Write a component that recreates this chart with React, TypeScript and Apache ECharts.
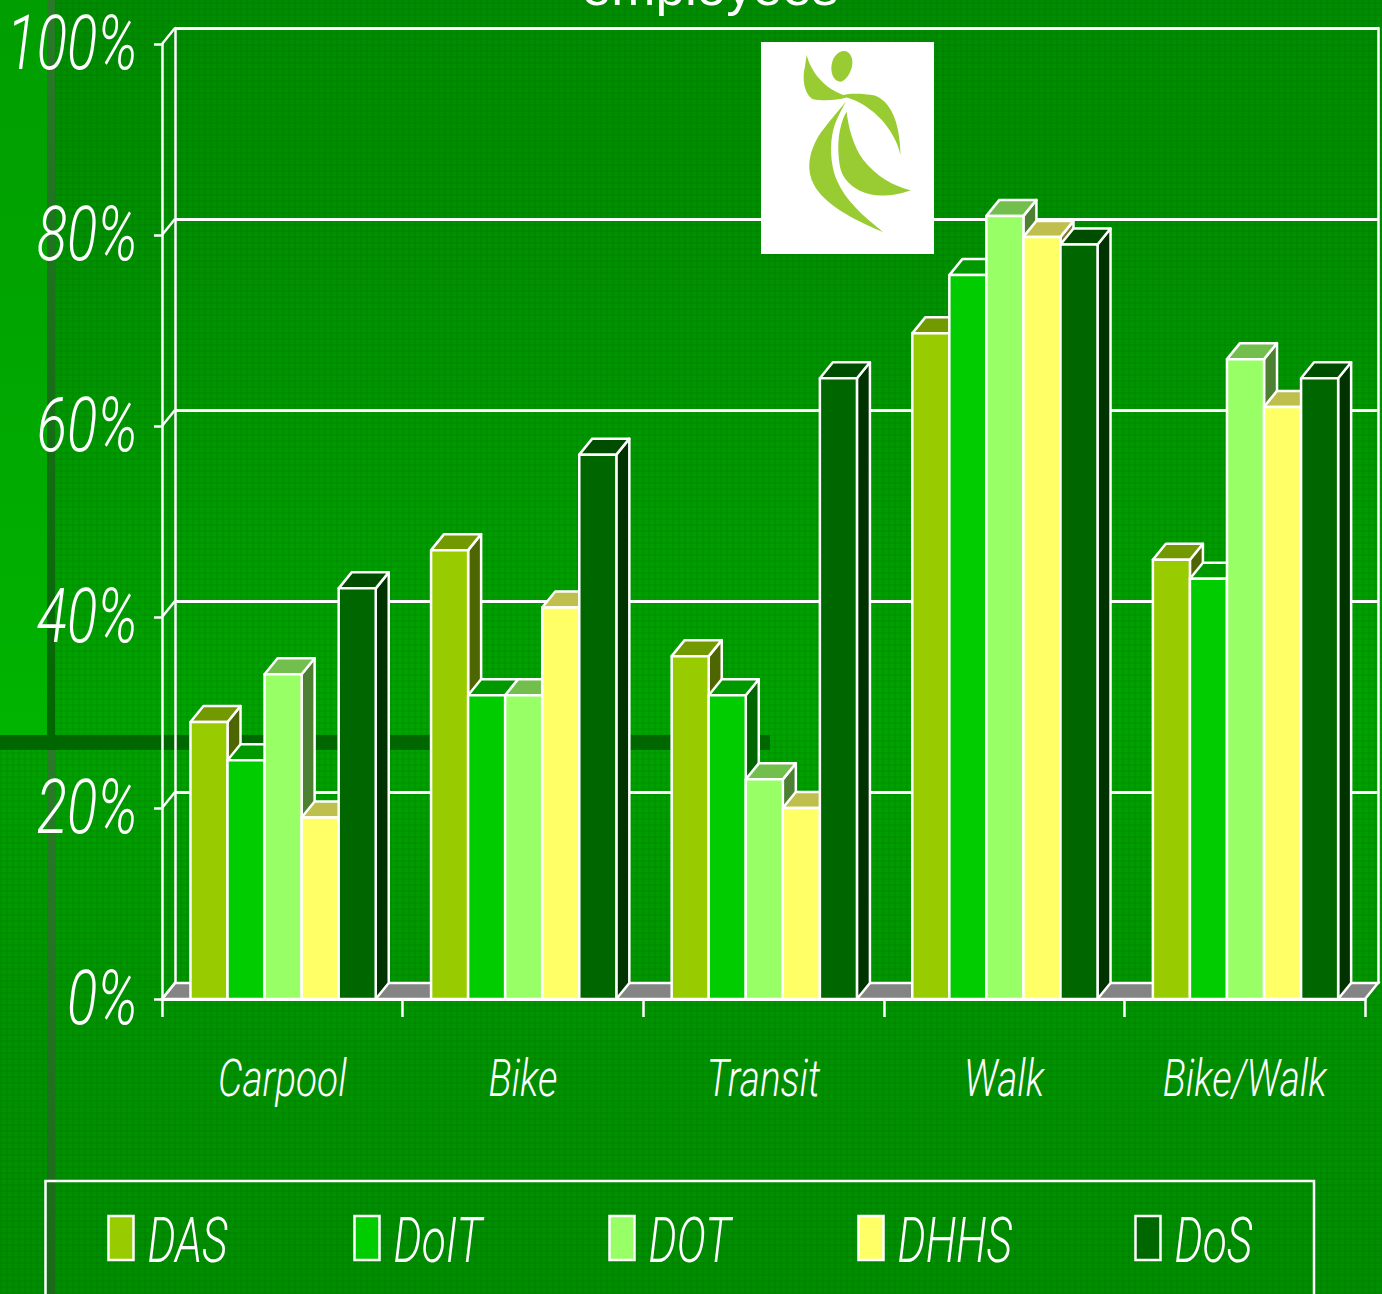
import React, { useEffect, useRef } from "react";
import * as echarts from "echarts";

const categories = ["Carpool", "Bike", "Transit", "Walk", "Bike/Walk"];
const agencies = ["DAS", "DoIT", "DOT", "DHHS", "DoS"];
const dasValues = [29, 47, 35.9, 69.7, 46];
const doitValues = [25, 31.8, 31.8, 75.8, 44];
const dotValues = [34, 31.8, 23, 82, 67];
const dhhsValues = [19, 41, 20, 79.8, 62];
const dosValues = [43, 57, 65, 79, 65];
const yTicks = [0, 20, 40, 60, 80, 100];
const yTickLabels = ["0%", "20%", "40%", "60%", "80%", "100%"];

const seriesValues = [dasValues, doitValues, dotValues, dhhsValues, dosValues];
const frontColors = ["#99CC00", "#00CC00", "#99FF66", "#FFFF66", "#006600"];
const topColors = ["#739900", "#009900", "#73BF4D", "#BFBF4D", "#004D00"];
const sideColors = ["#4D6600", "#006600", "#4D8033", "#808033", "#003300"];
const legendSwatchX = [108.5, 354.5, 609.5, 858.5, 1135.5];

const DX = 13;
const DY = 16;
const WHITE = "#FFFFFF";
const labelFont = (size: number) => `italic 300 ${size}px Roboto, "Liberation Sans", sans-serif`;

const ARM = "M170 75C185 130 225 175 280 195C300 190 340 190 375 197C420 215 450 270 452 375C440 320 400 265 355 235C335 220 310 208 290 203C260 213 210 212 190 208C165 195 155 150 165 110Z";
const HEAD = "M282 63C300 63 312 85 306 110C300 135 283 157 268 155C250 152 240 125 246 100C250 80 265 63 282 63Z";
const LEFT_LEAF = "M288 215C260 250 225 290 205 320C180 365 170 405 185 450C205 500 260 550 400 607C340 560 285 510 260 450C240 400 240 340 250 300C258 270 275 240 288 215Z";
const RIGHT_LEAF = "M290 245C265 290 260 350 270 410C280 460 330 495 390 497C430 497 460 490 483 481C430 470 380 440 340 390C310 350 295 290 290 245Z";
echarts.graphic.registerShape("logoArm", echarts.graphic.extendPath(ARM, {}));
echarts.graphic.registerShape("logoHead", echarts.graphic.extendPath(HEAD, {}));
echarts.graphic.registerShape("logoLeft", echarts.graphic.extendPath(LEFT_LEAF, {}));
echarts.graphic.registerShape("logoRight", echarts.graphic.extendPath(RIGHT_LEAF, {}));

const barSeries = (i: number) => ({
  type: "custom",
  name: agencies[i],
  z: 5 + i,
  silent: true,
  clip: false,
  data: seriesValues[i].map((v, c) => [c, v]),
  renderItem: (_p: any, api: any) => {
    const cat = api.value(0);
    const base = api.coord([cat, 0]);
    const top = api.coord([cat, api.value(1)]);
    const w = api.size([1, 0])[0] * 0.154;
    const x0 = base[0] + 0.8 + (i - 2.5) * w;
    const x1 = x0 + w;
    const y0 = base[1];
    const y1 = top[1];
    const st = (fill: string) => ({ fill, stroke: WHITE, lineWidth: 2.5, lineJoin: "round" });
    return {
      type: "group",
      children: [
        { type: "polygon", shape: { points: [[x1, y1], [x1 + DX, y1 - DY], [x1 + DX, y0 - DY], [x1, y0]] }, style: st(sideColors[i]) },
        { type: "polygon", shape: { points: [[x0, y1], [x0 + DX, y1 - DY], [x1 + DX, y1 - DY], [x1, y1]] }, style: st(topColors[i]) },
        { type: "rect", shape: { x: x0, y: y1, width: w, height: y0 - y1 }, style: st(frontColors[i]) },
      ],
    };
  },
});

const option: any = {
  animation: false,
  backgroundColor: "transparent",
  grid: [
    { left: 162, top: 44, width: 1203, height: 955 },
    { left: 175, top: 28, width: 1203, height: 955 },
  ],
  xAxis: [
    {
      type: "category", data: categories, gridIndex: 0, z: 20,
      axisLine: { show: true, lineStyle: { color: WHITE, width: 3 } },
      axisTick: { show: true, alignWithLabel: false, interval: 0, length: 18, lineStyle: { color: WHITE, width: 2.5 } },
      axisLabel: { show: false },
    },
    {
      type: "category", data: categories, gridIndex: 1, show: true,
      axisLine: { show: false }, axisTick: { show: false }, axisLabel: { show: false },
      splitLine: { show: false },
    },
  ],
  yAxis: [
    {
      type: "value", min: 0, max: 100, interval: 20, gridIndex: 0, z: 20,
      axisLine: { show: true, lineStyle: { color: WHITE, width: 2.5 } },
      axisTick: { show: true, length: 8, lineStyle: { color: WHITE, width: 2.5 } },
      axisLabel: { show: false }, splitLine: { show: false },
    },
    {
      type: "value", min: 0, max: 100, interval: 20, gridIndex: 1,
      axisLine: { show: true, lineStyle: { color: WHITE, width: 2.5 } },
      axisTick: { show: false }, axisLabel: { show: false },
      splitLine: { show: true, lineStyle: { color: WHITE, width: 3 } },
    },
    {
      type: "value", min: 0, max: 100, interval: 20, gridIndex: 1, position: "right",
      axisLine: { show: true, onZero: false, lineStyle: { color: WHITE, width: 2.5 } },
      axisTick: { show: false }, axisLabel: { show: false }, splitLine: { show: false },
    },
  ],
  series: [
    {
      type: "custom", name: "floor", z: 1, silent: true, clip: false,
      data: [[0, 0]],
      renderItem: (p: any, api: any) => {
        const y = api.coord([0, 0])[1];
        const l = p.coordSys.x;
        const r = l + p.coordSys.width;
        return {
          type: "polygon",
          shape: { points: [[l, y], [l + DX, y - DY], [r + DX, y - DY], [r, y]] },
          style: { fill: "#848484", stroke: WHITE, lineWidth: 2.5 },
        };
      },
    },
    {
      type: "custom", name: "yTicks", z: 2, silent: true, clip: false,
      data: yTicks.map((v, i) => [0, v, i]),
      renderItem: (p: any, api: any) => {
        const y = api.coord([0, api.value(1)])[1];
        const l = p.coordSys.x;
        return {
          type: "group",
          children: [
            { type: "line", shape: { x1: l, y1: y, x2: l + DX, y2: y - DY }, style: { stroke: WHITE, lineWidth: 2.5 } },
            {
              type: "text", x: 137.5, y, scaleX: 0.75,
              style: { x: 0, y: 0, text: yTickLabels[api.value(2)], align: "right", verticalAlign: "middle", font: labelFont(75), fill: WHITE },
            },
          ],
        };
      },
    },
    {
      type: "custom", name: "xLabels", z: 2, silent: true, clip: false,
      data: categories.map((_c, i) => [i, 0]),
      renderItem: (_p: any, api: any) => {
        const c = api.coord([api.value(0), 0]);
        return {
          type: "text", x: c[0], y: c[1] + 79, scaleX: 0.745,
          style: { x: 0, y: 0, text: categories[api.value(0)], align: "center", verticalAlign: "middle", font: labelFont(52), fill: WHITE },
        };
      },
    },
    ...seriesValues.map((_v, i) => barSeries(i)),
  ],
  graphic: [
    {
      type: "text", x: 710, y: 13, z: 10, silent: true,
      style: { text: "employees", align: "center", verticalAlign: "bottom", font: '53px "Liberation Sans", sans-serif', fill: WHITE },
    },
    { type: "rect", x: 761, y: 42, z: 10, silent: true, shape: { width: 173, height: 212 }, style: { fill: WHITE } },
    ...["logoArm", "logoHead", "logoLeft", "logoRight"].map((t) => ({
      type: t, x: 750, y: 30, scaleX: 1 / 3, scaleY: 1 / 3, z: 11, silent: true, style: { fill: "#99CC33" },
    })),
    {
      type: "polyline", z: 10, silent: true,
      shape: { points: [[45.5, 1300], [45.5, 1181], [1314, 1181], [1314, 1300]] },
      style: { stroke: WHITE, lineWidth: 2.5, fill: "none" },
    },
    ...agencies.flatMap((a, i) => [
      {
        type: "rect", x: legendSwatchX[i], y: 1216, z: 10, silent: true,
        shape: { width: 25, height: 44 }, style: { fill: frontColors[i], stroke: WHITE, lineWidth: 2.5 },
      },
      {
        type: "text", x: legendSwatchX[i] + 39, y: 1241, scaleX: 0.715, z: 10, silent: true,
        style: { x: 0, y: 0, text: a, align: "left", verticalAlign: "middle", font: labelFont(62), fill: WHITE },
      },
    ]),
  ],
};

const layer = (style: React.CSSProperties) => <div style={{ position: "absolute", ...style }} />;

export default function App() {
  const ref = useRef<HTMLDivElement>(null);
  useEffect(() => {
    const chart = echarts.init(ref.current as HTMLDivElement, undefined, { renderer: "svg" });
    chart.setOption(option);
    return () => chart.dispose();
  }, []);
  const texture =
    "repeating-linear-gradient(0deg, rgba(0,60,0,0.07) 0 2px, transparent 2px 6px), repeating-linear-gradient(90deg, rgba(0,60,0,0.07) 0 2px, transparent 2px 6px)";
  return (
    <div style={{ position: "fixed", left: 0, top: 0, width: 1382, height: 1294, overflow: "hidden", background: "#008A00" }}>
      {layer({ left: 0, top: 0, width: 1382, height: 735, background: "linear-gradient(180deg,#008C00 0%,#009000 35%,#009800 60%,#00A400 100%)" })}
      {layer({ left: 0, top: 735, width: 1382, height: 559, background: "linear-gradient(180deg,#00A200 0%,#009200 55%,#008E00 100%)" })}
      {layer({ left: 0, top: 0, width: 1382, height: 1294, backgroundImage: texture })}
      {layer({ left: 0, top: 0, width: 47, height: 735, background: "linear-gradient(180deg,#009E00 0%,#00A400 40%,#00B400 100%)" })}
      {layer({ left: 47, top: 0, width: 8, height: 735, background: "linear-gradient(180deg,#2A7A2A 0%,#1C701C 45%,#006600 100%)" })}
      {layer({ left: 47, top: 750, width: 8, height: 544, background: "linear-gradient(180deg,#2A7A2A 0%,#1A6A1A 100%)" })}
      {layer({ left: 0, top: 735, width: 770, height: 15, background: "#006600" })}
      <div ref={ref} style={{ position: "absolute", left: 0, top: 0, width: 1382, height: 1294 }} />
    </div>
  );
}
